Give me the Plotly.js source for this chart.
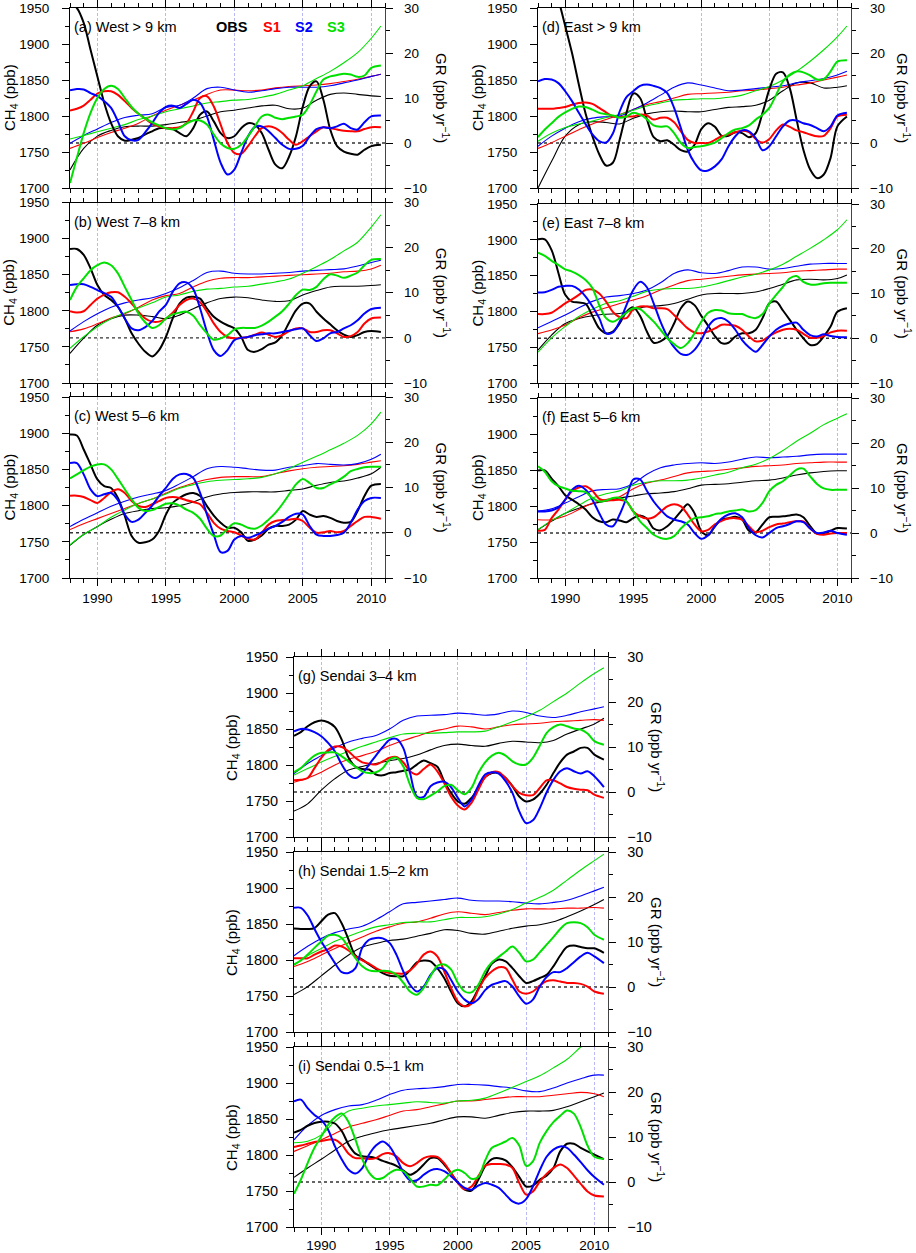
<!DOCTYPE html>
<html>
<head>
<meta charset="utf-8">
<script src="https://cdn.plot.ly/plotly-3.0.1.min.js"></script>
<style>
body{margin:0;background:#fff;}
#chart{width:916px;height:1253px;}
</style>
</head>
<body>
<div id="chart"></div>
<script>
// years: CH4 trend lines sampled yearly, growth rates every half year
var yrC = [1988,1989,1990,1991,1992,1993,1994,1995,1996,1997,1998,1999,2000,2001,2002,2003,2004,2005,2006,2007,2008,2009,2010,2010.7];
var yrG = [1988,1988.5,1989,1989.5,1990,1990.5,1991,1991.5,1992,1992.5,1993,1993.5,1994,1994.5,1995,1995.5,1996,1996.5,1997,1997.5,1998,1998.5,1999,1999.5,2000,2000.5,2001,2001.5,2002,2002.5,2003,2003.5,2004,2004.5,2005,2005.5,2006,2006.5,2007,2007.5,2008,2008.5,2009,2009.5,2010,2010.7];

// (a) West > 9 km
var aObsC = [1725,1755,1772,1780,1785,1786,1786,1788,1791,1794,1800,1806,1808,1811,1814,1815,1810,1811,1822,1830,1832,1830,1828,1827];
var aS1C  = [1755,1762,1770,1777,1783,1790,1800,1808,1815,1822,1830,1836,1836,1835,1836,1839,1841,1842,1843,1845,1848,1851,1855,1858];
var aS2C  = [1762,1773,1782,1791,1798,1801,1803,1812,1815,1825,1838,1840,1836,1833,1835,1838,1840,1840,1840,1842,1846,1850,1855,1858];
var aS3C  = [1768,1773,1778,1783,1788,1795,1800,1806,1810,1814,1818,1820,1822,1823,1826,1830,1836,1842,1852,1862,1874,1888,1908,1925];
var aObsG = [31,30,26.7,20.7,14.8,8.9,4.4,1.5,0.5,0.7,1.1,1.9,2.6,3.3,3.3,3.1,2.2,1.5,3.3,6.3,7.0,4.8,2.2,1.1,1.5,3.3,4.4,4.1,2.2,-1.5,-4.8,-5.6,-3.0,1.5,8.1,12.6,13.7,9.6,3.0,-0.7,-1.9,-2.4,-2.6,-1.5,-0.7,-0.4];
var aS1G  = [7.2,7.6,8.3,9.6,11.0,11.5,11.5,10.7,9.3,7.8,6.5,5.4,4.3,3.7,3.3,3.3,3.5,4.4,7.0,10.0,10.4,8.1,4.1,0,-2.2,-2.4,-0.7,1.5,3.3,3.7,3.3,2.2,0.7,-0.4,0.4,1.5,2.6,3.5,3.3,3.0,2.7,2.6,2.6,3.1,3.5,3.5];
var aS2G  = [11.7,12.0,11.9,11.1,10.4,9.3,7.8,4.8,1.5,0.6,0.7,2.4,4.4,6.7,8.0,8.3,7.8,8.7,9.6,8.9,5.9,0.7,-4.4,-7.0,-5.9,-2.2,1.5,3.6,3.7,2.6,1.1,-0.4,-1.3,-1.3,-0.6,1.5,3.1,3.5,3.3,3.7,4.3,3.3,3.0,4.6,5.9,6.1];
var aS3G  = [-8.9,-3.3,2.2,6.7,10.0,12.0,12.7,12.0,10.0,8.0,6.5,5.4,4.6,3.9,3.3,3.0,3.3,4.3,5.0,5.0,4.1,1.9,-0.1,-1.1,-1.3,-0.4,1.5,3.7,5.9,6.3,5.6,5.3,5.6,5.9,6.3,8.5,11.5,14.1,14.8,15.1,15.4,15.2,14.7,15.0,16.7,17.2];

// (b) West 7-8 km
var bObsC = [1741,1762,1780,1789,1794,1794,1792,1789,1794,1803,1811,1817,1819,1818,1815,1813,1814,1822,1828,1833,1834,1834,1835,1836];
var bS1C  = [1771,1775,1782,1790,1796,1805,1815,1821,1824,1833,1841,1845,1846,1846,1847,1848,1849,1850,1851,1852,1854,1855,1858,1863];
var bS2C  = [1772,1785,1796,1805,1811,1815,1818,1824,1832,1842,1853,1855,1852,1851,1851,1852,1853,1855,1856,1857,1858,1862,1867,1870];
var bS3C  = [1748,1764,1778,1789,1797,1804,1811,1819,1822,1827,1830,1831,1833,1834,1837,1840,1844,1852,1861,1871,1883,1895,1916,1933];
var bObsG = [19.7,19.7,18.4,15.4,11.7,9.5,8.4,6.9,4.3,1.0,-1.3,-3.1,-4.1,-2.7,0.2,4.3,7.6,8.9,9.1,8.7,6.5,4.7,3.6,2.8,2.1,0.2,-2.7,-3.1,-2.5,-1.5,-1.0,0.6,3.4,6.1,7.6,7.6,5.8,4.3,3.0,1.7,0.7,0.2,0.6,1.3,1.5,1.3];
var bS1G  = [5.9,5.6,5.9,7.3,8.7,9.6,10.1,10.1,9.1,7.6,5.8,4.3,3.6,3.6,4.3,5.6,7.3,8.4,8.7,7.9,5.8,3.2,1.3,0.2,-0.1,0.0,0.2,0.7,1.2,0.7,0.2,0.6,1.5,2.1,2.1,1.3,1.3,1.7,1.7,1.0,0.2,0.4,1.3,3.2,4.3,4.5];
var bS2G  = [11.7,11.9,11.9,11.3,10.6,9.9,9.1,6.9,4.3,2.1,1.7,2.4,3.7,5.8,7.3,10.2,12.1,12.3,10.8,6.5,1.3,-2.7,-4.0,-2.7,-0.5,0.0,0.2,0.6,0.8,1.0,1.0,1.3,1.6,1.9,2.1,0.6,-0.7,-0.1,1.0,1.3,2.1,2.8,3.9,5.4,6.4,6.7];
var bS3G  = [8.4,11.3,13.2,15.0,16.1,16.7,16.1,14.3,11.3,8.4,5.4,3.4,2.2,2.8,4.3,5.2,5.6,5.8,4.9,2.8,1.0,-0.4,-0.1,0.6,1.9,2.2,2.2,2.2,2.7,3.6,4.7,5.9,7.6,9.5,10.7,10.6,11.3,13.0,14.1,13.8,13.3,13.8,14.5,16.1,17.3,17.5];

// (c) West 5-6 km
var cObsC = [1745,1760,1771,1781,1789,1793,1796,1797,1800,1805,1812,1816,1818,1819,1819,1819,1821,1823,1828,1832,1834,1838,1844,1853];
var cS1C  = [1767,1775,1782,1789,1796,1803,1809,1817,1825,1831,1836,1839,1840,1840,1840,1844,1848,1851,1853,1854,1855,1857,1860,1862];
var cS2C  = [1771,1781,1790,1799,1806,1812,1816,1821,1830,1840,1851,1854,1853,1851,1849,1849,1853,1855,1858,1857,1856,1858,1864,1871];
var cS3C  = [1746,1760,1771,1784,1794,1803,1809,1816,1824,1829,1833,1835,1836,1837,1839,1844,1851,1860,1868,1877,1886,1897,1913,1929];
var cObsG = [21.7,21.5,18.4,15.1,11.8,10.3,9.9,7.7,3.7,-0.7,-2.2,-2.1,-1.5,0.4,4.0,6.6,7.7,8.5,8.8,8.1,5.9,3.8,2.2,1.1,1.1,0.1,-1.8,-1.5,-0.6,0.9,1.5,1.5,1.8,2.9,4.8,4.0,3.5,3.7,3.3,2.6,2.2,2.4,4.8,8.1,10.4,10.8];
var cS1G  = [8.2,8.2,7.9,7.2,6.6,7.7,9.0,9.6,8.8,7.0,5.9,5.7,6.3,7.0,7.7,7.9,7.7,7.2,6.8,6.3,4.4,2.2,0.9,0.4,0.1,-0.6,-1.3,-1.5,0.0,1.8,2.6,2.8,2.9,3.1,2.6,1.1,0.0,0.1,0.4,0.1,0.4,1.5,2.6,3.5,3.5,3.1];
var cS2G  = [15.4,15.4,12.9,9.6,8.1,8.5,8.8,7.2,4.0,2.4,2.9,4.4,6.0,8.1,9.9,11.9,12.9,13.0,12.1,8.8,4.0,-0.4,-4.3,-4.0,-1.5,-0.7,-1.1,-0.6,0.1,0.9,1.5,2.4,3.5,4.2,4.0,1.5,-0.4,-0.7,-0.7,-0.5,0.0,2.2,5.1,7.0,7.7,7.7];
var cS3G  = [12.0,12.9,13.8,14.6,15.1,15.1,14.0,11.9,9.6,7.4,5.5,4.8,5.0,5.7,6.4,6.5,6.0,5.1,4.4,3.1,0.9,-0.7,-0.6,0.9,2.1,1.8,1.1,0.9,1.6,2.9,4.4,6.3,8.5,10.7,11.9,11.0,9.9,9.9,10.7,11.4,12.4,13.6,14.1,14.5,14.6,14.6];

// (d) East > 9 km
var dObsC = [1700,1737,1772,1788,1792,1791,1789,1797,1803,1806,1807,1806,1806,1809,1812,1813,1815,1822,1835,1846,1846,1839,1840,1842];
var dS1C  = [1755,1763,1772,1781,1789,1795,1802,1809,1816,1820,1825,1830,1831,1832,1833,1835,1836,1838,1840,1843,1846,1850,1854,1857];
var dS2C  = [1758,1772,1783,1792,1797,1799,1800,1809,1818,1829,1840,1846,1843,1839,1835,1836,1838,1840,1842,1846,1849,1852,1857,1862];
var dS3C  = [1765,1776,1784,1789,1793,1798,1802,1808,1814,1818,1822,1823,1824,1824,1826,1829,1835,1841,1850,1862,1876,1892,1910,1925];
var dObsG = [50,44,38,32,26,20,13,6.5,1.5,-2.5,-5.0,-4.4,0.7,6.7,11.0,10.0,5.3,1.3,0.4,0.6,-0.4,-1.6,-1.9,-0.4,3.1,4.4,3.6,1.6,1.6,2.4,2.2,1.3,2.2,6.7,11.9,15.4,15.7,12.2,5.2,-1.5,-5.9,-7.8,-7.0,-3.3,3.7,5.9];
var dS1G  = [7.6,7.6,7.6,7.8,8.0,8.5,8.9,9.0,8.7,7.8,6.8,5.9,5.8,5.9,5.9,6.3,6.1,5.2,5.6,5.6,4.6,2.6,0.7,0.0,0.0,0.0,0.7,1.5,1.9,2.4,2.7,2.4,0.9,0.1,0.9,2.8,4.1,3.6,2.8,2.4,1.9,1.5,1.6,3.3,5.9,6.3];
var dS2G  = [13.7,14.2,14.1,13.3,11.5,9.3,6.7,4.2,1.9,0.4,0.1,2.1,7.0,10.2,11.5,12.7,13.0,12.7,12.2,11.1,7.8,3.3,-1.5,-4.4,-6.1,-6.1,-5.2,-3.6,-0.7,1.5,2.8,2.6,1.1,-1.6,-0.7,1.5,3.7,5.0,5.0,4.4,4.0,3.3,2.6,3.7,6.1,6.7];
var dS3G  = [1.3,3.0,4.4,5.8,6.8,7.6,8.1,8.0,7.4,6.7,6.4,6.1,5.6,5.9,6.7,6.3,5.3,3.9,3.6,3.7,2.2,0.0,-1.1,-0.9,-0.7,-0.4,0.1,1.1,2.2,3.0,3.3,3.9,5.2,6.3,7.8,10.7,13.7,15.2,15.9,15.7,15.0,14.1,14.2,15.9,18.1,18.4];

// (e) East 7-8 km
var eObsC = [1746,1767,1783,1790,1794,1796,1797,1802,1807,1808,1811,1817,1823,1825,1825,1825,1827,1832,1838,1844,1845,1844,1846,1851];
var eS1C  = [1769,1774,1781,1791,1799,1805,1811,1816,1822,1830,1837,1843,1845,1847,1849,1851,1852,1853,1854,1856,1857,1858,1859,1859];
var eS2C  = [1777,1786,1795,1805,1814,1820,1822,1825,1830,1840,1853,1858,1854,1853,1857,1862,1862,1859,1860,1863,1866,1867,1867,1867];
var eS3C  = [1743,1763,1779,1793,1803,1811,1815,1821,1828,1831,1832,1832,1834,1838,1843,1848,1852,1858,1866,1877,1888,1900,1914,1928];
var eObsG = [22.1,22.1,19.7,14.6,9.7,8.2,8.0,7.7,5.0,2.2,1.1,1.5,3.3,5.9,6.9,5.0,1.5,-1.0,-0.7,0.5,3.3,6.7,8.2,7.4,5.0,2.8,0.5,-1.1,-1.0,0.4,1.1,1.1,1.9,4.5,7.8,8.2,6.2,4.1,1.9,0.0,-1.5,-1.3,0.4,2.6,5.9,6.7];
var eS1G  = [5.4,5.4,5.7,6.7,7.8,8.7,9.7,10.8,10.9,10.0,8.2,5.9,4.7,4.5,6.5,7.1,7.1,6.7,6.7,6.5,5.2,3.7,2.2,1.3,1.1,1.5,2.2,3.0,3.0,2.8,1.9,0.4,-0.7,-0.5,0.5,1.3,1.9,2.1,1.9,1.0,0.1,0.1,0.5,1.3,1.7,1.7];
var eS2G  = [10.2,10.3,10.8,11.5,11.7,11.7,10.9,9.3,7.1,4.5,1.1,1.3,3.7,7.4,10.8,12.6,11.4,7.8,3.7,0.4,-2.0,-3.5,-3.7,-2.6,-0.4,2.6,4.2,4.5,3.7,1.9,-0.4,-2.0,-3.0,-1.5,0.4,1.9,2.8,3.3,3.5,1.9,0.7,0.4,0.9,0.5,0.3,0.2];
var eS3G  = [19.1,18.4,17.3,16.4,15.4,14.9,14.1,13.0,11.2,7.4,4.5,3.7,4.5,5.7,6.7,6.5,5.2,3.7,1.9,0.0,-1.3,-2.2,-1.1,1.1,3.7,5.7,6.3,6.2,5.6,5.4,5.4,4.8,4.5,5.4,7.8,9.7,11.5,13.4,13.9,12.6,12.0,12.0,12.3,12.4,12.4,12.4];

// (f) East 5-6 km
var fObsC = [1767,1779,1790,1797,1803,1807,1811,1814,1817,1818,1820,1824,1829,1830,1831,1833,1835,1836,1839,1843,1846,1848,1849,1849];
var fS1C  = [1781,1781,1786,1795,1804,1809,1813,1824,1832,1836,1841,1846,1848,1849,1851,1853,1855,1856,1857,1859,1860,1861,1861,1861];
var fS2C  = [1793,1796,1804,1813,1821,1823,1824,1831,1844,1853,1857,1859,1860,1859,1861,1865,1868,1867,1868,1869,1871,1872,1872,1872];
var fS3C  = [1767,1780,1790,1801,1811,1817,1821,1829,1833,1835,1835,1836,1839,1843,1847,1853,1858,1866,1877,1890,1901,1913,1922,1928];
var fObsG = [13.9,13.9,12.1,10.4,8.4,7.4,6.4,5.2,3.5,2.6,2.4,3.0,2.8,2.4,3.3,3.9,3.2,1.0,0.6,1.5,3.0,4.8,6.4,4.4,0.4,-0.5,1.5,3.0,3.3,3.6,3.0,0.5,0.2,1.9,3.5,3.6,3.7,3.9,4.1,3.5,1.5,-0.1,0.0,0.5,1.1,1.0];
var fS1G  = [0.5,0.7,3.3,5.2,7.4,9.3,10.1,10.4,9.4,7.6,7.2,7.3,7.4,7.0,4.8,3.7,3.2,3.5,4.7,5.9,6.4,5.9,4.1,1.9,0.4,0.7,1.9,2.7,3.2,3.3,3.0,1.5,0.2,0.5,1.3,1.9,2.1,2.4,2.6,2.6,1.0,-0.2,-0.4,-0.1,0.0,0.0];
var fS2G  = [4.8,4.8,5.0,5.7,7.4,9.6,10.5,9.6,7.4,4.4,1.9,1.5,4.1,7.8,11.9,11.9,9.4,7.0,5.2,3.7,3.0,2.6,1.9,0.0,-1.3,-0.5,1.5,3.2,4.1,4.4,3.5,1.1,-0.5,-1.0,0.0,1.1,1.5,2.0,2.6,2.4,1.0,0.0,0.1,0.5,0.0,-0.4];
var fS3G  = [14.8,13.6,11.5,10.4,9.9,9.4,9.3,9.1,7.8,7.0,7.2,7.8,7.8,7.0,4.8,2.6,1.1,-0.4,-1.1,-1.3,-0.7,1.0,2.4,3.3,3.5,3.7,4.2,4.4,4.8,5.0,5.2,4.8,5.1,6.7,9.3,10.7,11.5,12.8,14.1,14.3,12.6,10.9,9.9,9.6,9.6,9.6];

// (g) Sendai 3-4 km
var gObsC = [1736,1746,1765,1781,1793,1798,1802,1806,1809,1814,1821,1827,1829,1827,1826,1830,1833,1832,1831,1834,1843,1850,1857,1865];
var gS1C  = [1776,1782,1790,1800,1808,1813,1819,1827,1834,1840,1846,1850,1854,1853,1850,1853,1856,1857,1858,1860,1861,1862,1863,1862];
var gS2C  = [1788,1802,1813,1824,1832,1837,1841,1850,1862,1868,1869,1870,1872,1871,1869,1871,1875,1873,1868,1866,1869,1874,1878,1881];
var gS3C  = [1786,1795,1804,1812,1819,1826,1832,1838,1843,1844,1844,1845,1846,1846,1847,1853,1860,1867,1876,1888,1900,1914,1927,1935];
var gObsG = [12.5,13.3,14.6,15.5,15.9,15.5,14.4,11.6,7.6,5.6,5.1,5.0,3.9,3.7,4.2,4.4,4.7,5.0,6.1,7.0,6.4,5.6,2.4,-0.2,-2.1,-2.6,-1.3,0.9,3.3,4.2,4.2,3.1,1.3,-1.0,-2.1,-1.7,-0.4,1.6,4.2,6.6,8.3,9.0,9.8,9.8,8.3,7.2];
var gS1G  = [2.6,2.7,3.1,5.3,7.6,9.3,10.1,10.0,9.0,7.6,6.6,6.3,6.1,6.8,7.6,7.8,6.6,4.6,3.9,5.1,6.1,4.6,2.0,-1.0,-3.0,-3.9,-2.4,0.5,3.3,4.4,4.4,3.1,1.3,-0.2,-0.7,-0.7,0.9,2.6,2.6,1.9,1.1,0.7,0.5,0.4,-0.6,-1.3];
var gS2G  = [13.5,14.0,13.9,13.3,12.4,10.9,9.0,6.1,3.9,3.1,4.1,6.1,8.1,10.0,11.6,11.8,9.8,4.2,-1.0,-1.1,1.3,2.1,2.3,1.1,-1.3,-3.2,-1.7,1.4,3.9,4.4,4.1,2.4,-0.2,-4.3,-6.9,-6.3,-3.6,-0.1,2.7,4.6,5.3,4.6,4.1,4.6,3.5,1.1];
var gS3G  = [4.4,5.3,6.8,8.1,8.7,8.8,8.8,7.9,6.8,5.6,4.6,4.2,4.4,5.3,7.2,7.6,5.7,1.6,-1.3,-1.6,-0.8,0.1,1.3,1.6,0.4,-0.5,0.9,4.2,6.6,8.1,8.7,8.1,6.8,6.1,6.1,7.6,10.3,13.1,14.4,15.0,14.6,14.1,13.9,13.0,11.3,10.5];

// (h) Sendai 1.5-2 km
var hObsC = [1752,1763,1778,1793,1807,1818,1823,1827,1829,1833,1837,1842,1841,1837,1836,1840,1844,1847,1849,1853,1860,1868,1877,1884];
var hS1C  = [1791,1798,1807,1816,1824,1832,1840,1846,1851,1853,1858,1864,1867,1865,1863,1866,1869,1871,1871,1871,1872,1872,1873,1872];
var hS2C  = [1806,1819,1830,1838,1843,1847,1856,1867,1878,1880,1882,1884,1886,1883,1882,1882,1881,1879,1878,1880,1883,1889,1896,1901];
var hS3C  = [1793,1806,1816,1826,1833,1840,1846,1849,1852,1853,1853,1856,1859,1859,1860,1864,1870,1879,1887,1897,1911,1925,1938,1947];
var hObsG = [13.0,12.9,12.9,13.1,14.6,16.1,16.4,14.1,10.5,7.0,6.1,5.0,4.0,3.1,2.5,2.4,2.4,3.7,5.5,5.9,5.7,4.2,2.0,-1.0,-3.6,-4.3,-3.2,-0.4,2.4,5.2,6.1,5.7,4.2,2.4,0.9,1.3,2.0,2.7,4.6,7.0,8.9,9.2,8.9,8.6,8.6,7.6];
var hS1G  = [6.4,6.4,6.4,7.2,7.9,8.4,9.2,9.0,8.1,6.8,5.9,5.2,4.2,3.5,3.1,3.0,3.0,3.7,5.2,7.2,7.9,6.8,3.5,-0.2,-3.2,-4.3,-3.7,-0.6,2.0,3.5,4.4,4.2,1.6,-1.0,-1.5,-1.0,0.3,1.3,1.5,1.2,0.9,0.9,0.7,0.1,-1.0,-1.5];
var hS2G  = [17.6,17.6,15.9,12.9,10.1,7.7,5.3,3.3,3.1,4.2,8.7,10.5,10.9,10.8,9.8,7.2,3.5,0.5,-1.0,0.1,2.7,4.2,3.9,1.6,-1.0,-2.8,-3.6,-2.7,-0.7,0.5,1.0,1.3,0.1,-2.1,-3.7,-2.8,0.1,2.2,3.3,3.3,4.2,5.5,6.8,7.6,6.8,5.3];
var hS3G  = [5.0,5.9,7.2,8.7,10.1,11.4,11.6,10.9,8.7,6.4,4.6,3.7,3.5,3.6,3.5,2.7,1.0,-1.0,-1.7,-0.2,2.4,4.7,5.0,3.9,0.9,-1.0,-1.2,0.5,3.5,5.5,6.7,7.9,9.0,7.6,5.7,6.1,7.7,9.4,11.1,12.9,14.2,14.4,14.2,13.3,11.6,10.5];

// (i) Sendai 0.5-1 km
var iObsC = [1769,1782,1794,1807,1819,1826,1831,1835,1838,1841,1844,1849,1853,1853,1851,1855,1859,1861,1861,1862,1867,1874,1881,1886];
var iS1C  = [1805,1813,1821,1830,1839,1844,1849,1855,1861,1863,1867,1871,1875,1875,1877,1879,1881,1881,1881,1883,1885,1887,1885,1881];
var iS2C  = [1821,1841,1855,1863,1868,1870,1876,1884,1890,1892,1893,1895,1898,1898,1897,1895,1893,1889,1888,1893,1900,1906,1911,1911];
var iS3C  = [1817,1819,1828,1847,1861,1865,1868,1870,1872,1874,1873,1872,1875,1876,1879,1886,1894,1902,1910,1921,1933,1950,1966,1977];
var iObsG = [11.0,11.6,12.5,13.1,13.4,13.4,13.0,11.3,8.3,6.3,5.7,5.6,5.3,4.7,4.2,3.6,2.6,1.6,2.4,3.9,5.3,5.3,3.9,2.0,-0.1,-1.7,-1.9,0.5,3.5,5.1,5.3,4.8,3.3,1.1,-1.0,-0.8,0.5,1.4,3.1,6.8,8.5,8.5,7.6,6.8,6.1,5.1];
var iS1G  = [7.8,8.1,8.5,8.9,9.1,9.4,9.4,8.3,6.3,5.3,5.3,5.1,5.3,6.2,6.4,5.7,4.2,3.5,4.2,5.3,5.7,5.6,4.2,2.0,-0.2,-1.6,-1.0,1.3,3.6,4.0,4.0,3.9,3.1,-0.2,-2.8,-2.1,0.1,1.8,3.1,3.9,3.1,1.4,-0.4,-2.1,-3.0,-3.2];
var iS2G  = [17.9,18.3,16.4,14.9,13.8,11.6,7.9,5.0,2.7,1.9,3.1,6.1,8.1,9.0,7.9,5.3,2.2,0.4,0.4,1.6,2.6,2.9,2.4,1.3,-0.1,-1.3,-1.7,-0.8,-0.2,-0.6,-1.3,-2.8,-4.3,-4.8,-3.8,-1.0,2.6,5.6,7.2,7.9,7.6,6.1,4.4,2.6,1.1,-0.6];
var iS3G  = [-2.6,0.5,4.2,7.6,10.1,12.7,14.4,15.2,13.3,9.4,5.1,2.1,0.7,0.9,2.0,2.7,2.4,0.7,-1.0,-1.0,-0.6,-0.7,0.5,2.0,2.7,2.0,0.7,1.1,4.8,7.6,8.3,9.0,9.8,8.1,3.6,4.6,8.7,11.3,13.3,14.7,15.9,15.2,12.2,8.1,5.6,5.1];

var seriesNames = ['OBS','S1','S2','S3'];
var seriesColors = ['#000000','#ff0000','#0000ff','#00e000'];

// pixel boxes [left, right, top, bottom]
var panels = [
  {label:'(a) West > 9 km',      box:[70,385,8,188],     ch4:[aObsC,aS1C,aS2C,aS3C], gr:[aObsG,aS1G,aS2G,aS3G], xlab:false, col:0},
  {label:'(b) West 7\u20138 km', box:[70,385,202.5,383], ch4:[bObsC,bS1C,bS2C,bS3C], gr:[bObsG,bS1G,bS2G,bS3G], xlab:false, col:0},
  {label:'(c) West 5\u20136 km', box:[70,385,397,578],   ch4:[cObsC,cS1C,cS2C,cS3C], gr:[cObsG,cS1G,cS2G,cS3G], xlab:true,  col:0},
  {label:'(d) East > 9 km',      box:[538,851,8,188],    ch4:[dObsC,dS1C,dS2C,dS3C], gr:[dObsG,dS1G,dS2G,dS3G], xlab:false, col:1},
  {label:'(e) East 7\u20138 km', box:[538,851,204,383],  ch4:[eObsC,eS1C,eS2C,eS3C], gr:[eObsG,eS1G,eS2G,eS3G], xlab:false, col:1},
  {label:'(f) East 5\u20136 km', box:[538,851,398,578],  ch4:[fObsC,fS1C,fS2C,fS3C], gr:[fObsG,fS1G,fS2G,fS3G], xlab:true,  col:1},
  {label:'(g) Sendai 3\u20134 km',   box:[294,608,657,837],   ch4:[gObsC,gS1C,gS2C,gS3C], gr:[gObsG,gS1G,gS2G,gS3G], xlab:false, col:2},
  {label:'(h) Sendai 1.5\u20132 km', box:[294,608,852,1032],  ch4:[hObsC,hS1C,hS2C,hS3C], gr:[hObsG,hS1G,hS2G,hS3G], xlab:false, col:2},
  {label:'(i) Sendai 0.5\u20131 km', box:[294,608,1047,1227], ch4:[iObsC,iS1C,iS2C,iS3C], gr:[iObsG,iS1G,iS2G,iS3G], xlab:true,  col:2}
];

var W = 916, H = 1253;
function px(x){ return x / W; }
function py(y){ return 1 - y / H; }

var FONT = 'Liberation Sans, Arial, Helvetica, sans-serif';
var ch4TitleX = [10, 478, 232];
var grTitleX = [443, 904, 658];
var leftStandoff = [10, 10, 5];

var data = [];
var layout = {
  width: W, height: H,
  margin: {l:0, r:0, t:0, b:0},
  paper_bgcolor: '#fff', plot_bgcolor: '#fff',
  showlegend: false,
  font: {family: FONT, size: 13.5, color: '#000'},
  annotations: [], shapes: []
};

panels.forEach(function(p, i){
  var n = i + 1;
  var sfx = n > 1 ? String(n) : '';
  var xa = 'x' + sfx, ya = 'y' + sfx, yr = 'y' + (n + 9);
  var xd = [px(p.box[0]), px(p.box[1])];
  var yd = [py(p.box[3]), py(p.box[2])];

  layout['xaxis' + sfx] = {
    domain: xd, anchor: ya, range: [1988, 2011],
    tick0: 1990, dtick: 5, ticks: 'outside', ticklen: 7, tickwidth: 1, tickcolor: '#000',
    minor: {dtick: 1, ticks: 'outside', ticklen: 4, tickwidth: 1, tickcolor: '#000', showgrid: false},
    showticklabels: p.xlab, ticklabelstandoff: p.col == 2 ? -1 : 1,
    tickfont: {size: 13.5},
    showline: true, linecolor: '#000', linewidth: 1, mirror: 'ticks',
    showgrid: true, gridcolor: '#a6a6f2', gridwidth: 0.8, griddash: '3px,2px',
    zeroline: false, fixedrange: true
  };
  layout['yaxis' + sfx] = {
    domain: yd, anchor: xa, range: [1700, 1950],
    tick0: 1700, dtick: 50, ticks: 'outside', ticklen: 7, tickwidth: 1, tickcolor: '#000',
    minor: {dtick: 25, ticks: 'outside', ticklen: 4, tickwidth: 1, tickcolor: '#000', showgrid: false},
    ticklabelstandoff: leftStandoff[p.col],
    tickfont: {size: p.col == 2 ? 14.5 : 13.5},
    showline: true, linecolor: '#000', linewidth: 1, mirror: false,
    showgrid: false, zeroline: false, fixedrange: true
  };
  layout['yaxis' + (n + 9)] = {
    domain: yd, anchor: xa, overlaying: ya, side: 'right', range: [-10, 30],
    tick0: 0, dtick: 10, ticks: 'outside', ticklen: 7, tickwidth: 1, tickcolor: '#000',
    minor: {dtick: 5, ticks: 'outside', ticklen: 4, tickwidth: 1, tickcolor: '#000', showgrid: false},
    ticklabelstandoff: 8,
    tickfont: {size: p.col == 2 ? 14.5 : 13.5},
    showline: true, linecolor: '#444', linewidth: 1.3,
    showgrid: false, zeroline: false, fixedrange: true
  };

  // zero growth-rate line
  layout.shapes.push({
    type: 'line', xref: xa + ' domain', x0: 0, x1: 1, yref: yr, y0: 0, y1: 0,
    line: {color: '#333', width: 1.3, dash: 'dot'}, layer: 'below'
  });

  for (var s = 0; s < 4; s++) {
    data.push({
      type: 'scatter', mode: 'lines', x: yrC, y: p.ch4[s], xaxis: xa, yaxis: ya,
      name: seriesNames[s] + ' CH4',
      line: {color: seriesColors[s], width: 1.1, shape: 'spline', smoothing: 1},
      hoverinfo: 'skip'
    });
  }
  for (var s2 = 0; s2 < 4; s2++) {
    data.push({
      type: 'scatter', mode: 'lines', x: yrG, y: p.gr[s2], xaxis: xa, yaxis: yr,
      name: seriesNames[s2] + ' GR',
      line: {color: seriesColors[s2], width: 2, shape: 'spline', smoothing: 0.9},
      hoverinfo: 'skip'
    });
  }

  var cy = (p.box[2] + p.box[3]) / 2;
  layout.annotations.push({
    xref: 'paper', yref: 'paper', x: px(p.box[0] + 2), y: py(p.box[2] + 19),
    xanchor: 'left', yanchor: 'middle', showarrow: false,
    text: p.label, font: {size: 14.5, color: '#000'}
  });
  layout.annotations.push({
    xref: 'paper', yref: 'paper', x: px(ch4TitleX[p.col]), y: py(cy),
    xanchor: 'center', yanchor: 'middle', showarrow: false, textangle: -90,
    text: 'CH<sub>4</sub> (ppb)', font: {size: 15, color: '#000'}
  });
  layout.annotations.push({
    xref: 'paper', yref: 'paper', x: px(grTitleX[p.col]), y: py(cy),
    xanchor: 'center', yanchor: 'middle', showarrow: false, textangle: 90,
    text: 'GR (ppb yr<sup>\u22121</sup>)', font: {size: 15, color: '#000'}
  });
});

// legend text in panel (a)
var legX = [232, 272, 304, 336];
for (var k = 0; k < 4; k++) {
  layout.annotations.push({
    xref: 'paper', yref: 'paper', x: px(legX[k]), y: py(27),
    xanchor: 'center', yanchor: 'middle', showarrow: false,
    text: '<b>' + seriesNames[k] + '</b>', font: {size: 14.5, color: seriesColors[k]}
  });
}

Plotly.newPlot('chart', data, layout, {staticPlot: true, displayModeBar: false});
</script>
</body>
</html>
